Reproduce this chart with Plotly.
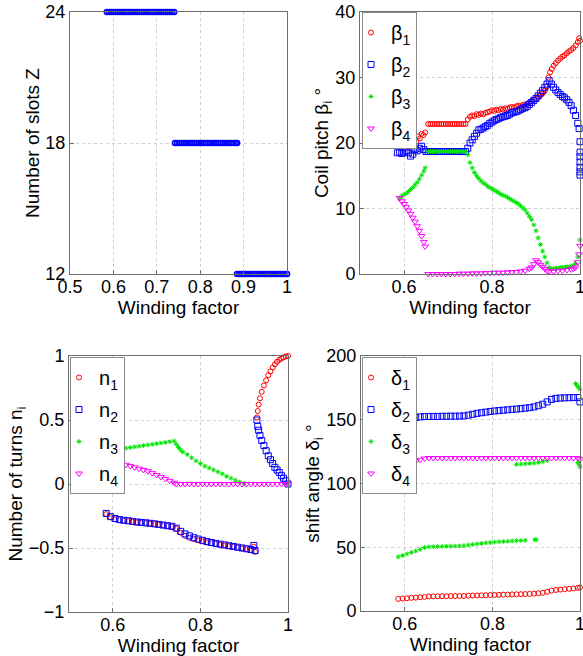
import plotly.graph_objects as go

# ---------------- data ----------------
# Top-left: number of slots vs winding factor
z24_wf = [0.585,0.59,0.595,0.6,0.605,0.61,0.615,0.62,0.625,0.63,0.635,0.64,0.645,0.65,0.655,0.66,
          0.665,0.67,0.675,0.68,0.685,0.69,0.695,0.7,0.705,0.71,0.715,0.72,0.725,0.73,0.735,0.74]
z18_wf = [0.742,0.747,0.752,0.757,0.762,0.767,0.772,0.777,0.782,0.787,0.792,0.797,0.802,0.807,0.812,
          0.817,0.822,0.827,0.832,0.837,0.842,0.847,0.852,0.857,0.862,0.867,0.872,0.877,0.882,0.885]
z12_wf = [0.885,0.89,0.895,0.9,0.905,0.91,0.915,0.92,0.925,0.93,0.935,0.94,0.945,0.95,0.955,0.96,
          0.965,0.97,0.975,0.98,0.985,0.99,0.995,1.0]
slot_levels = [24, 18, 12]

# Top-right: coil pitch beta_i (deg)
b1_wf = [0.612,0.616,0.62,0.624,0.628,0.632,0.636,0.64,0.644,0.648,
         0.655,0.66,0.665,0.67,0.675,0.68,0.685,0.69,0.695,0.7,0.705,0.71,0.715,0.72,0.725,0.73,0.735,0.74,
         0.745,0.75,0.755,0.76,0.765,0.77,0.775,0.78,0.785,0.79,
         0.795,0.8,0.805,0.81,0.815,0.82,0.825,0.83,0.835,0.84,
         0.845,0.85,0.855,0.86,0.865,0.87,0.875,0.88,0.885,0.89,
         0.895,0.9,0.905,0.91,0.915,0.92,0.925,
         0.928,0.932,0.936,0.94,0.945,0.95,0.955,0.96,0.965,0.97,0.975,0.98,0.985,0.99,0.995,0.998,1.0]
b1_deg = [19.3,20.1,19.6,20.5,20.2,21.0,20.7,21.4,21.2,21.6,
          22.9,22.9,22.9,22.9,22.9,22.9,22.9,22.9,22.9,22.9,22.9,22.9,22.9,22.9,22.9,22.9,22.9,22.9,
          23.6,24.0,24.2,24.1,24.4,24.3,24.5,24.4,24.6,24.7,
          24.8,25.0,24.9,25.1,25.0,25.2,25.1,25.3,25.2,25.4,
          25.5,25.4,25.6,25.7,25.6,25.8,25.9,26.0,26.2,26.4,
          26.6,26.8,27.0,27.3,27.6,28.0,28.6,
          30.0,30.8,31.3,31.8,32.2,32.6,32.9,33.2,33.4,33.7,34.0,34.2,34.5,34.9,35.4,36.0,35.6]

b2_wf = [0.585,0.59,0.595,0.6,0.605,0.61,0.615,0.62,0.625,0.63,0.635,0.64,0.645,0.65,
         0.655,0.66,0.665,0.67,0.675,0.68,0.685,0.69,0.695,0.7,0.705,0.71,0.715,0.72,0.725,0.73,0.735,0.74,
         0.745,0.75,0.755,0.76,0.765,0.77,0.775,0.78,0.785,0.79,
         0.795,0.8,0.805,0.81,0.815,0.82,0.825,0.83,0.835,0.84,
         0.845,0.85,0.855,0.86,0.865,0.87,0.875,0.88,0.885,0.89,
         0.895,0.9,0.905,0.91,0.915,0.92,0.925,0.93,
         0.935,0.94,0.945,0.95,0.955,0.96,0.965,0.97,0.975,0.98,0.985,0.99,0.995,
         0.998,1.0,1.0,1.0,1.0,1.0,1.0,1.0]
b2_deg = [18.5,18.6,18.4,18.6,18.8,18.5,18.0,18.3,19.0,18.8,19.2,19.5,19.0,18.7,
          18.7,18.7,18.7,18.7,18.7,18.7,18.7,18.7,18.7,18.7,18.7,18.7,18.7,18.7,18.7,18.7,18.7,18.7,
          19.2,20.0,20.5,21.0,21.5,22.0,22.1,22.3,22.5,22.7,
          23.0,23.2,23.4,23.6,23.7,23.9,24.0,24.1,24.2,24.4,
          24.6,24.7,24.8,24.9,25.1,25.3,25.4,25.6,25.9,26.2,
          26.5,26.8,27.2,27.6,28.0,28.5,29.0,29.5,
          29.0,28.5,28.1,27.7,27.4,27.1,26.9,26.6,26.2,25.7,25.0,24.2,23.0,
          22.2,20.2,18.6,17.9,17.1,16.3,15.6,15.1]

b3_wf = [0.59,0.595,0.6,0.605,0.61,0.615,0.62,0.625,0.63,0.635,0.64,0.645,0.648,
         0.655,0.66,0.665,0.67,0.675,0.68,0.685,0.69,0.695,0.7,0.705,0.71,0.715,0.72,0.725,0.73,0.735,0.74,
         0.745,0.75,0.755,0.76,0.765,0.77,0.775,0.78,0.785,0.79,
         0.795,0.8,0.805,0.81,0.815,0.82,0.825,0.83,0.835,0.84,
         0.845,0.85,0.855,0.86,0.865,0.87,0.875,0.88,0.885,0.89,
         0.895,0.9,0.905,0.91,0.915,0.92,0.925,0.93,
         0.935,0.94,0.945,0.95,0.955,0.96,0.965,0.97,0.975,0.98,0.985,0.99,0.995,1.0]
b3_deg = [11.6,11.9,12.1,12.3,12.6,12.9,13.2,13.6,14.0,14.5,15.1,15.7,16.2,
          18.7,18.7,18.7,18.7,18.7,18.7,18.7,18.7,18.7,18.7,18.7,18.7,18.7,18.7,18.7,18.7,18.7,18.7,
          18.2,17.0,16.2,15.5,15.0,14.6,14.2,13.9,13.7,13.4,
          13.2,13.0,12.8,12.6,12.4,12.2,12.0,11.9,11.7,11.5,
          11.3,11.1,10.9,10.7,10.4,10.1,9.8,9.3,8.8,8.3,
          7.5,6.6,5.5,4.5,3.5,2.6,1.7,1.0,
          0.8,0.8,0.9,0.9,1.0,1.0,1.0,1.1,1.1,1.2,1.3,1.6,2.6,5.2]

b4_wf = [0.59,0.595,0.6,0.605,0.61,0.615,0.62,0.625,0.63,0.635,0.64,0.645,0.648,
         0.655,0.665,0.675,0.685,0.695,0.705,0.715,0.725,0.735,0.745,0.755,0.765,0.775,0.785,0.795,
         0.805,0.815,0.825,0.835,0.845,0.855,0.865,0.875,0.885,
         0.89,0.895,0.9,0.905,0.91,0.915,0.92,0.925,0.93,0.94,0.95,0.96,0.97,0.98,0.985,0.99,0.995,0.998,1.0]
b4_deg = [11.6,11.1,10.7,10.2,9.7,9.2,8.6,8.0,7.3,6.6,5.8,4.9,4.2,
          0.0,0.0,0.0,0.0,0.0,0.0,0.0,0.05,0.05,0.05,0.1,0.1,0.1,0.15,0.15,
          0.2,0.2,0.2,0.25,0.3,0.3,0.4,0.5,0.8,
          1.0,1.5,2.1,1.8,1.4,1.1,0.8,0.5,0.4,0.4,0.5,0.5,0.6,0.7,0.8,1.0,1.8,3.0,4.3]

# Bottom-left: number of turns n_i
arc_wf = [0.929,0.931,0.933,0.936,0.94,0.945,0.95,0.955,0.96,0.965,0.97,0.975,0.98,0.985,0.99,0.995,1.0]
n1_arc = [0.52,0.57,0.62,0.67,0.72,0.77,0.81,0.85,0.88,0.91,0.935,0.955,0.97,0.98,0.99,0.997,1.0]
n2_arc = [0.50,0.45,0.42,0.38,0.34,0.30,0.26,0.22,0.19,0.16,0.13,0.11,0.09,0.065,0.045,0.025,0.0]
low_wf = [0.585,0.595,0.605,0.615,0.625,0.635,0.645,0.655,0.665,0.675,0.685,0.695,0.705,0.715,0.725,
          0.735,0.745,0.755,0.765,0.775,0.785,0.795,0.805,0.815,0.825,0.835,0.845,0.855,0.865,0.875,
          0.885,0.895,0.905,0.915,0.922,0.925]
n1_low = [-0.235,-0.26,-0.275,-0.283,-0.287,-0.29,-0.296,-0.30,-0.303,-0.306,-0.31,-0.314,-0.318,-0.323,-0.328,
          -0.333,-0.35,-0.38,-0.405,-0.42,-0.43,-0.44,-0.448,-0.456,-0.462,-0.468,-0.474,-0.48,-0.486,-0.49,
          -0.497,-0.503,-0.509,-0.515,-0.49,-0.53]
n2_low = [-0.23,-0.255,-0.27,-0.278,-0.283,-0.287,-0.292,-0.297,-0.30,-0.303,-0.307,-0.311,-0.316,-0.321,-0.326,
          -0.331,-0.345,-0.37,-0.39,-0.405,-0.42,-0.43,-0.44,-0.45,-0.457,-0.464,-0.47,-0.476,-0.482,-0.488,
          -0.494,-0.50,-0.506,-0.512,-0.48,-0.52]
n3_wf = [0.59,0.6,0.605,0.61,0.62,0.63,0.64,0.65,0.66,0.67,0.68,0.69,0.7,0.71,0.72,0.73,0.74,
         0.745,0.75,0.755,0.76,0.77,0.78,0.79,0.8,0.81,0.82,0.83,0.84,0.85,0.86,0.87,0.88,0.89,0.9]
n3_val = [0.23,0.24,0.25,0.26,0.27,0.28,0.285,0.29,0.295,0.30,0.305,0.31,0.315,0.32,0.325,0.33,0.335,
          0.31,0.285,0.265,0.25,0.23,0.205,0.18,0.16,0.14,0.125,0.11,0.095,0.08,0.06,0.045,0.03,0.015,0.005]
n4_wf = [0.59,0.6,0.605,0.61,0.62,0.63,0.64,0.65,0.66,0.67,0.68,0.69,0.7,0.71,0.72,0.73,0.74,
         0.745,0.755,0.765,0.775,0.785,0.795,0.805,0.815,0.825,0.835,0.845,0.855,0.865,0.875,0.885,
         0.895,0.905,0.915,0.925,0.935,0.945,0.955,0.965,0.975,0.985,0.995,1.0]
n4_val = [0.20,0.19,0.18,0.175,0.165,0.15,0.14,0.13,0.12,0.11,0.10,0.085,0.07,0.055,0.04,0.025,0.01,
          0.0,0.0,0.0,0.0,0.0,0.0,0.0,0.0,0.0,0.0,0.0,0.0,0.0,0.0,0.0,
          0.0,0.0,0.0,0.0,0.0,0.0,0.0,0.0,0.0,0.0,0.0,0.0]

# Bottom-right: shift angle delta_i (deg)
d_wf = [0.585,0.595,0.605,0.615,0.625,0.635,0.645,0.655,0.665,0.675,0.685,0.695,0.705,0.715,0.725,
        0.735,0.745,0.755,0.765,0.775,0.785,0.795,0.805,0.815,0.825,0.835,0.845,0.855,0.865,0.875,
        0.885,0.895,0.905,0.915,0.925,0.935,0.945,0.955,0.965,0.975,0.985,0.995,1.0]
d1_deg = [9.5,9.8,10.0,10.3,10.5,10.8,11.0,11.4,11.5,11.5,
          11.6,11.6,11.7,11.7,11.8,11.8,12.0,12.1,12.2,12.3,
          12.4,12.5,12.6,12.7,12.8,12.9,13.0,13.1,13.2,13.3,
          13.4,13.6,13.9,14.3,15.0,16.0,16.5,16.8,17.1,17.4,
          17.7,18.1,18.5]
d2_deg = [149.5,150.0,150.6,151.2,151.8,152.2,152.5,152.6,152.6,152.6,
          152.7,152.7,152.8,152.8,152.9,153.0,153.6,154.3,155.0,155.5,
          156.0,156.5,156.9,157.2,157.5,157.8,158.1,158.4,158.7,159.1,
          159.5,160.1,161.0,162.2,164.0,166.0,166.8,167.0,167.2,167.3,
          167.4,167.4,164.0]
d4_deg = [114.5,115.2,116.0,116.8,117.5,118.6,119.6,120.0,120.0,120.0,
          120.0,120.0,120.0,120.0,120.0,120.0,120.0,120.0,120.0,120.0,
          120.0,120.0,120.0,120.0,120.0,120.0,120.0,120.0,120.0,120.0,
          120.0,120.0,120.0,120.0,120.0,120.0,120.0,120.0,120.0,120.0,
          120.0,120.0,119.0]
d3_wf = [0.585,0.595,0.605,0.615,0.625,0.635,0.645,0.655,0.665,0.675,0.685,0.695,0.705,0.715,0.725,
         0.735,0.745,0.755,0.765,0.775,0.785,0.795,0.805,0.815,0.825,0.835,0.845,0.855,0.865,0.875,
         0.897,0.9,
         0.855,0.865,0.875,0.885,0.895,0.905,0.915,0.925,
         0.99,0.993,0.996,1.0,0.995,0.998,1.0]
d3_deg = [42.5,43.5,44.8,46.0,47.0,48.3,49.8,50.3,50.4,50.5,
          50.6,50.7,50.8,50.9,51.0,51.2,51.7,52.2,52.6,53.0,
          53.4,53.7,54.0,54.3,54.5,54.7,54.9,55.1,55.3,55.5,
          56.0,55.8,
          115.0,115.2,115.4,115.7,116.0,116.5,117.2,118.0,
          178.5,177.0,175.5,174.0,116.5,115.0,113.0]

# ---------------- styling ----------------
RED, BLUE, GREEN, MAG = "rgb(255,0,0)", "rgb(0,0,255)", "rgb(0,230,0)", "rgb(255,0,255)"
FONT = "Liberation Sans, Arial, sans-serif"

def mk(sym, color, size, lw=1):
    return dict(symbol=sym, color=color, size=size, line=dict(color=color, width=lw))

STY = {
    1: mk("circle-open", RED, 5),
    2: mk("square-open", BLUE, 6),
    3: mk("asterisk-open", GREEN, 4),
    4: mk("triangle-down-open", MAG, 6),
}

fig = go.Figure()

slot_wf = z24_wf + z18_wf + z12_wf
slot_z = [slot_levels[0]] * len(z24_wf) + [slot_levels[1]] * len(z18_wf) + [slot_levels[2]] * len(z12_wf)
fig.add_trace(go.Scatter(x=slot_wf, y=slot_z, mode="markers", xaxis="x", yaxis="y",
                         marker=mk("circle-open", BLUE, 5, 1.6), showlegend=False, cliponaxis=False))

def add(x, y, k, name, ax, leg):
    fig.add_trace(go.Scatter(x=x, y=y, mode="markers", xaxis="x" + ax, yaxis="y" + ax,
                             marker=STY[k], name=name, legend=leg, legendgroup=leg + name,
                             cliponaxis=False))

add(b1_wf, b1_deg, 1, "β<sub>1</sub>", "2", "legend")
add(b2_wf, b2_deg, 2, "β<sub>2</sub>", "2", "legend")
add(b3_wf, b3_deg, 3, "β<sub>3</sub>", "2", "legend")
add(b4_wf, b4_deg, 4, "β<sub>4</sub>", "2", "legend")

add(arc_wf + low_wf, n1_arc + n1_low, 1, "n<sub>1</sub>", "3", "legend2")
add(arc_wf + low_wf, n2_arc + n2_low, 2, "n<sub>2</sub>", "3", "legend2")
add(n3_wf, n3_val, 3, "n<sub>3</sub>", "3", "legend2")
add(n4_wf, n4_val, 4, "n<sub>4</sub>", "3", "legend2")

add(d_wf, d1_deg, 1, "δ<sub>1</sub>", "4", "legend3")
add(d_wf, d2_deg, 2, "δ<sub>2</sub>", "4", "legend3")
add(d3_wf, d3_deg, 3, "δ<sub>3</sub>", "4", "legend3")
add(d_wf, d4_deg, 4, "δ<sub>4</sub>", "4", "legend3")

W, H = 583, 656
def px_x(a, b):
    return [a / W, b / W]
def px_y(top, bot):
    return [1 - bot / H, 1 - top / H]

axis_common = dict(showline=True, mirror=True, linecolor="#6e6e6e", linewidth=1,
                   showgrid=True, gridcolor="#cfcfcf", griddash="dot", gridwidth=1,
                   zeroline=False, ticks="inside", ticklen=4, tickcolor="#6e6e6e",
                   automargin=False, ticklabeloverflow="allow",
                   tickfont=dict(family=FONT, size=18, color="black"),
                   title_font=dict(family=FONT, size=19, color="black"))

def xax(dom, anchor, tickvals):
    d = dict(axis_common)
    d.update(domain=dom, anchor=anchor, range=[0.5, 1.0], tickvals=tickvals,
             ticklabelstandoff=-4, title=dict(text="Winding factor", standoff=0))
    return d

def yax(dom, anchor, rng, tickvals, title):
    d = dict(axis_common)
    d.update(domain=dom, anchor=anchor, range=rng, tickvals=tickvals,
             title=dict(text=title, standoff=0))
    return d

leg_common = dict(bgcolor="white", bordercolor="#8c8c8c", borderwidth=1,
                  font=dict(family=FONT, size=20, color="black"),
                  xanchor="left", yanchor="top", tracegroupgap=3, indentation=-12)

fig.update_layout(
    template="none",
    width=W, height=H, margin=dict(l=0, r=0, t=0, b=0),
    paper_bgcolor="white", plot_bgcolor="white",
    font=dict(family=FONT, color="black"),
    xaxis=xax(px_x(70, 287), "y", [0.5, 0.6, 0.7, 0.8, 0.9, 1.0]),
    yaxis=yax(px_y(12, 274), "x", [12, 24], [12, 18, 24], "Number of slots Z"),
    xaxis2=xax(px_x(360, 580), "y2", [0.6, 0.8, 1.0]),
    yaxis2=yax(px_y(12, 274), "x2", [0, 40], [0, 10, 20, 30, 40], "Coil pitch β<sub>i</sub> °"),
    xaxis3=xax(px_x(69, 288), "y3", [0.6, 0.8, 1.0]),
    yaxis3=yax(px_y(356, 612), "x3", [-1, 1], [-1, -0.5, 0, 0.5, 1], "Number of turns n<sub>i</sub>"),
    xaxis4=xax(px_x(361, 580), "y4", [0.6, 0.8, 1.0]),
    yaxis4=yax(px_y(356, 611), "x4", [0, 200], [0, 50, 100, 150, 200], "shift angle δ<sub>i</sub> °"),
    legend=dict(leg_common, x=362 / W, y=1 - 12 / H),
    legend2=dict(leg_common, x=70 / W, y=1 - 357 / H),
    legend3=dict(leg_common, x=362 / W, y=1 - 357 / H),
)

# remove the default 8px page margin so the figure fills the 583x656 window exactly
fig.write_html("out.html", config={"displayModeBar": False},
               post_script="document.body.style.margin='0px';")
